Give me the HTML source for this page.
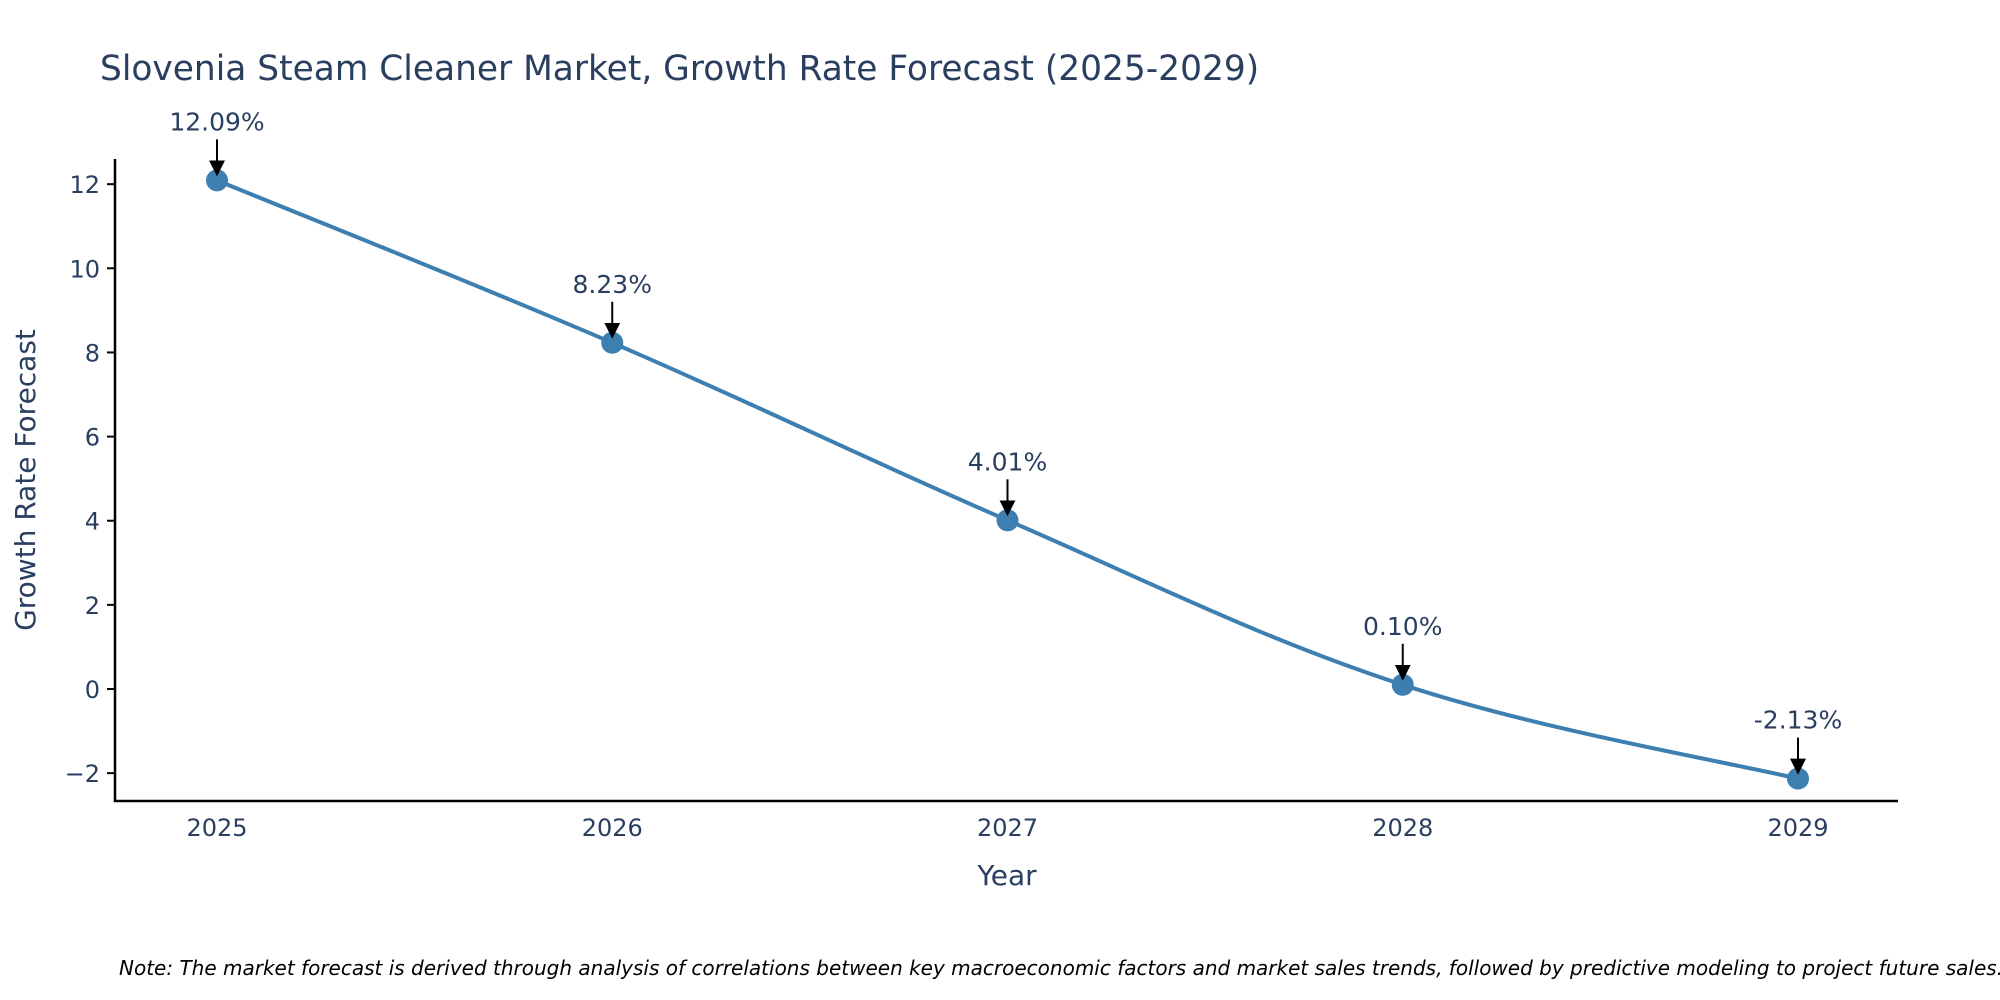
<!DOCTYPE html>
<html><head><meta charset="utf-8"><style>
html,body{margin:0;padding:0;background:#fff;width:2000px;height:1000px;overflow:hidden}
svg{display:block;font-family:"DejaVu Sans","Liberation Sans",sans-serif}
</style></head><body>
<svg id="chart" width="2000" height="1000">
<defs><marker id="ah" markerWidth="16" markerHeight="16" refX="14" refY="8" orient="auto" markerUnits="userSpaceOnUse"><path d="M0,0 L16,8 L0,16 z" fill="#000"/></marker></defs>
<text x="100" y="80" font-size="34.4" fill="#2a3f5f">Slovenia Steam Cleaner Market, Growth Rate Forecast (2025-2029)</text>
<g id="axes"></g>
<g id="marks"></g>
<text x="1007" y="885" font-size="28" fill="#2a3f5f" text-anchor="middle">Year</text>
<text transform="translate(35,480) rotate(-90)" font-size="28" fill="#2a3f5f" text-anchor="middle">Growth Rate Forecast</text>
<text x="119" y="975" font-size="20" font-style="italic" fill="#000">Note: The market forecast is derived through analysis of correlations between key macroeconomic factors and market sales trends, followed by predictive modeling to project future sales.</text>
</svg>
<script>
const years = [2025, 2026, 2027, 2028, 2029];
const values = [12.09, 8.23, 4.01, 0.10, -2.13];
const labels = ["12.09%", "8.23%", "4.01%", "0.10%", "-2.13%"];
const yTicks = [-2, 0, 2, 4, 6, 8, 10, 12];
const NS = "http://www.w3.org/2000/svg";
const xs = v => 217 + (v - 2025) * (1798 - 217) / 4;
const ys = v => 689 - v * 42.07;
function mk(tag, attrs, parent, text){const e=document.createElementNS(NS,tag);for(const k in attrs)e.setAttribute(k,attrs[k]);if(text!==undefined)e.textContent=text;parent.appendChild(e);return e;}
const axes=document.getElementById('axes'), marks=document.getElementById('marks');
let yl=mk('line',{x1:115,y1:159,x2:115,y2:802,stroke:'#000','stroke-width':2.5},axes);


let xl=mk('line',{x1:114,y1:801,x2:1898,y2:801,stroke:'#000','stroke-width':2.5},axes);


yTicks.forEach(t=>{
  let tk=mk('line',{x1:107,x2:115,y1:ys(t),y2:ys(t),stroke:'#000','stroke-width':2},axes);
  
  
  let tl=mk('text',{x:100,y:ys(t)+9,'font-size':24,fill:'#2a3f5f','text-anchor':'end'},axes,t<0?'\u2212'+Math.abs(t):String(t));
  
  
});
years.forEach(y=>{
  let tl=mk('text',{x:xs(y),y:836,'font-size':24,fill:'#2a3f5f','text-anchor':'middle'},axes,String(y));
  
  
});
const P=years.map((y,i)=>[xs(y),ys(values[i])]);
let d='M'+P[0][0]+','+P[0][1];
for(let i=0;i<P.length-1;i++){
  const p0=P[Math.max(i-1,0)],p1=P[i],p2=P[i+1],p3=P[Math.min(i+2,P.length-1)],s=0.18;
  d+=` C${p1[0]+(p2[0]-p0[0])*s},${p1[1]+(p2[1]-p0[1])*s} ${p2[0]-(p3[0]-p1[0])*s},${p2[1]-(p3[1]-p1[1])*s} ${p2[0]},${p2[1]}`;
}
let ln=mk('path',{d:d,fill:'none',stroke:'#3d7fb0','stroke-width':4},marks);


P.forEach((p,i)=>{
  let c=mk('circle',{cx:p[0],cy:p[1],r:11,fill:'#3d7fb0'},marks);
  
  
  let a=mk('line',{x1:p[0],y1:p[1]-41,x2:p[0],y2:p[1]-6,stroke:'#000','stroke-width':2,'marker-end':'url(#ah)'},marks);
  
  
  let t=mk('text',{x:p[0],y:p[1]-50,'font-size':25,fill:'#2a3f5f','text-anchor':'middle'},marks,labels[i]);
  
  
});
</script>
</body></html>
